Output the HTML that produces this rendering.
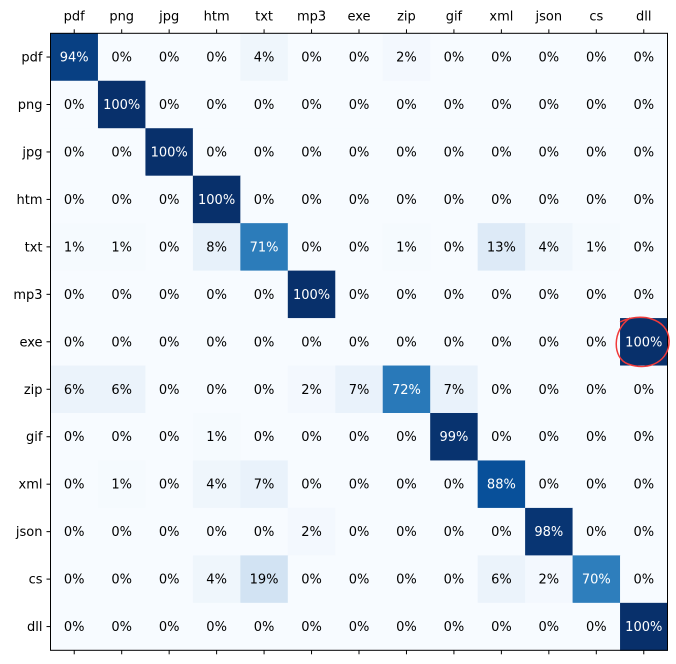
<!DOCTYPE html>
<html><head><meta charset="utf-8"><style>
body{margin:0;background:#fff;width:676px;height:664px;overflow:hidden}
svg{display:block}
text{font-family:"DejaVu Sans","Liberation Sans",sans-serif;font-size:13px}
</style></head><body>
<svg id="chart" width="676" height="664"></svg>
<script>
const categories=["pdf","png","jpg","htm","txt","mp3","exe","zip","gif","xml","json","cs","dll"];
const values=[
[94,0,0,0,4,0,0,2,0,0,0,0,0],
[0,100,0,0,0,0,0,0,0,0,0,0,0],
[0,0,100,0,0,0,0,0,0,0,0,0,0],
[0,0,0,100,0,0,0,0,0,0,0,0,0],
[1,1,0,8,71,0,0,1,0,13,4,1,0],
[0,0,0,0,0,100,0,0,0,0,0,0,0],
[0,0,0,0,0,0,0,0,0,0,0,0,100],
[6,6,0,0,0,2,7,72,7,0,0,0,0],
[0,0,0,1,0,0,0,0,99,0,0,0,0],
[0,1,0,4,7,0,0,0,0,88,0,0,0],
[0,0,0,0,0,2,0,0,0,0,98,0,0],
[0,0,0,4,19,0,0,0,0,6,2,70,0],
[0,0,0,0,0,0,0,0,0,0,0,0,100]];
const NS="http://www.w3.org/2000/svg";
const svg=document.getElementById('chart');
const L=50.5,T=33.3,W=617,H=617;
const n=categories.length,cw=W/n,ch=H/n;
const xs=i=>L+i*cw, ys=j=>T+j*ch;
const stops=["f7fbff","deebf7","c6dbef","9ecae1","6baed6","4292c6","2171b5","08519c","08306b"].map(h=>[parseInt(h.slice(0,2),16),parseInt(h.slice(2,4),16),parseInt(h.slice(4,6),16)]);
function blues(t){t=Math.max(0,Math.min(1,t))*8;const i=Math.min(7,Math.floor(t)),f=t-i;const a=stops[i],b=stops[i+1];return `rgb(${a.map((v,k)=>Math.round(v+(b[k]-v)*f)).join(',')})`;}
function mk(tag,attrs,txt){const e=document.createElementNS(NS,tag);for(const k in attrs)e.setAttribute(k,attrs[k]);if(txt!==undefined)e.textContent=txt;svg.appendChild(e);return e;}
values.forEach((row,j)=>row.forEach((v,i)=>{
  const r=mk('rect',{x:xs(i),y:ys(j),width:cw+0.5,height:ch+0.5,fill:blues(v/100)});
  
  
  const t=mk('text',{x:xs(i)+cw/2,y:ys(j)+ch/2+4.5,'text-anchor':'middle',fill:v>50?'#fff':'#000'},v+'%');
  
  
}));
const fr=mk('rect',{x:L,y:T,width:W,height:H,fill:'none',stroke:'#000','stroke-width':1});


categories.forEach((c,i)=>{
  const x=xs(i)+cw/2;
  mk('line',{x1:x,x2:x,y1:T,y2:T-4,stroke:'#000'});
  mk('line',{x1:x,x2:x,y1:T+H,y2:T+H+4,stroke:'#000'});
  const t=mk('text',{x:x,y:T-13,'text-anchor':'middle'},c);
  
  
  const y=ys(i)+ch/2;
  mk('line',{x1:L,x2:L-4,y1:y,y2:y,stroke:'#000'});
  const t2=mk('text',{x:L-8,y:y+4.5,'text-anchor':'end'},c);
  
  
});
const e=mk('path',{d:'M 620 322 C 640 312, 668 318, 669 340 C 670 360, 650 372, 628 364 C 612 358, 612 330, 630 318',fill:'none',stroke:'#f03a3a','stroke-width':1.5});


</script>
</body></html>
